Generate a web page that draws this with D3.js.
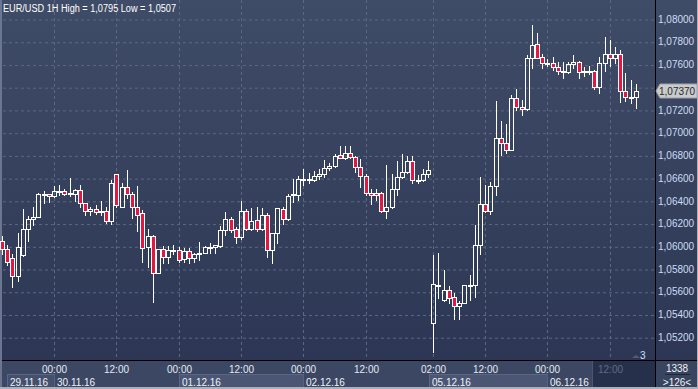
<!DOCTYPE html>
<html><head><meta charset="utf-8">
<script src="https://cdn.jsdelivr.net/npm/d3@7/dist/d3.min.js"></script>
<style>
html,body{margin:0;padding:0;background:#2e3955;}
svg{display:block;font-family:"Liberation Sans",Arial,sans-serif;}
</style></head>
<body>
<svg id="c" width="698" height="389"></svg>
<script>
// ---- data (EUR/USD 1H candles) ----
const opens = [1.06049,1.05976,1.05894,1.05742,1.05920,1.06155,1.06237,1.06261,1.06458,1.06457,
1.06440,1.06478,1.06484,1.06466,1.06463,1.06492,1.06381,1.06308,1.06325,1.06310,
1.06308,1.06225,1.06633,1.06343,1.06522,1.06457,1.06343,1.06293,1.05991,1.06091,
1.05768,1.05976,1.05903,1.05967,1.05967,1.05885,1.05956,1.05894,1.05929,1.05944,
1.05997,1.05997,1.06003,1.06143,1.06237,1.06149,1.06085,1.06313,1.06149,1.06228,
1.06149,1.06272,1.05964,1.06114,1.06328,1.06237,1.06448,1.06451,1.06592,1.06595,
1.06580,1.06618,1.06633,1.06689,1.06704,1.06800,1.06774,1.06818,1.06783,1.06695,
1.06618,1.06472,1.06469,1.06466,1.06308,1.06343,1.06501,1.06610,1.06657,1.06750,
1.06583,1.06583,1.06636,1.05328,1.05659,1.05528,1.05616,1.05557,1.05478,1.05498,
1.05659,1.05659,1.06011,1.06369,1.06314,1.06531,1.06950,1.06906,1.06847,1.07308,
1.07223,1.07205,1.07654,1.07777,1.07669,1.07616,1.07616,1.07575,1.07545,1.07537,
1.07601,1.07619,1.07543,1.07543,1.07543,1.07405,1.07610,1.07692,1.07654,1.07692,
1.07367,1.07317,1.07317];
const highs = [1.06090,1.06011,1.05932,1.06114,1.06325,1.06269,1.06343,1.06466,1.06486,1.06457,
1.06530,1.06539,1.06501,1.06601,1.06504,1.06542,1.06381,1.06349,1.06363,1.06401,
1.06343,1.06583,1.06633,1.06560,1.06671,1.06481,1.06530,1.06316,1.06152,1.06099,
1.05973,1.06000,1.06003,1.06011,1.05994,1.05982,1.05982,1.05944,1.06035,1.06003,
1.06026,1.06008,1.06179,1.06305,1.06255,1.06167,1.06399,1.06331,1.06334,1.06343,
1.06334,1.06296,1.06114,1.06334,1.06349,1.06460,1.06589,1.06618,1.06683,1.06642,
1.06665,1.06677,1.06759,1.06730,1.06812,1.06885,1.06882,1.06882,1.06797,1.06765,
1.06633,1.06501,1.06507,1.06481,1.06712,1.06633,1.06750,1.06809,1.06797,1.06794,
1.06630,1.06683,1.06753,1.05923,1.05938,1.05792,1.05651,1.05592,1.05519,1.05657,
1.05747,1.06187,1.06607,1.06539,1.06563,1.07279,1.07103,1.07073,1.07331,1.07384,
1.07287,1.07683,1.07950,1.07874,1.07689,1.07648,1.07663,1.07619,1.07619,1.07619,
1.07683,1.07633,1.07575,1.07587,1.07551,1.07663,1.07845,1.07815,1.07757,1.07727,
1.07522,1.07463,1.07428];
const lows = [1.05930,1.05835,1.05639,1.05698,1.05915,1.06049,1.06187,1.06255,1.06378,1.06393,
1.06437,1.06451,1.06454,1.06445,1.06396,1.06349,1.06272,1.06272,1.06287,1.06272,
1.06202,1.06196,1.06343,1.06343,1.06428,1.06252,1.06137,1.05865,1.05815,1.05513,
1.05768,1.05856,1.05856,1.05932,1.05865,1.05865,1.05856,1.05865,1.05879,1.05938,
1.05938,1.05938,1.05997,1.06099,1.06129,1.06026,1.06061,1.06143,1.06143,1.06135,
1.06143,1.05909,1.05850,1.06032,1.06193,1.06231,1.06393,1.06407,1.06542,1.06554,
1.06577,1.06589,1.06607,1.06671,1.06695,1.06774,1.06771,1.06774,1.06651,1.06525,
1.06451,1.06369,1.06407,1.06302,1.06252,1.06337,1.06451,1.06598,1.06648,1.06554,
1.06554,1.06577,1.06607,1.05070,1.05548,1.05519,1.05498,1.05360,1.05360,1.05498,
1.05528,1.05557,1.05929,1.06299,1.06284,1.06451,1.06803,1.06824,1.06847,1.07199,
1.07155,1.07199,1.07572,1.07654,1.07572,1.07587,1.07551,1.07516,1.07484,1.07522,
1.07572,1.07484,1.07501,1.07516,1.07384,1.07352,1.07545,1.07587,1.07610,1.07273,
1.07281,1.07258,1.07214];
const closes = [1.05973,1.05859,1.05742,1.05991,1.06149,1.06237,1.06261,1.06460,1.06463,1.06442,
1.06484,1.06489,1.06463,1.06467,1.06492,1.06378,1.06308,1.06325,1.06302,1.06311,
1.06225,1.06554,1.06360,1.06522,1.06457,1.06343,1.06278,1.05982,1.06091,1.05768,
1.05973,1.05903,1.05967,1.05956,1.05876,1.05961,1.05894,1.05929,1.05944,1.05997,
1.05998,1.06008,1.06143,1.06237,1.06143,1.06085,1.06313,1.06149,1.06220,1.06149,
1.06272,1.05964,1.06114,1.06334,1.06237,1.06443,1.06457,1.06589,1.06593,1.06580,
1.06618,1.06639,1.06689,1.06704,1.06797,1.06780,1.06818,1.06783,1.06695,1.06618,
1.06466,1.06448,1.06448,1.06308,1.06343,1.06501,1.06610,1.06657,1.06750,1.06583,
1.06584,1.06636,1.06671,1.05665,1.05660,1.05616,1.05548,1.05478,1.05498,1.05657,
1.05660,1.06008,1.06369,1.06314,1.06531,1.06950,1.06906,1.06847,1.07308,1.07223,
1.07205,1.07654,1.07771,1.07660,1.07610,1.07617,1.07575,1.07545,1.07546,1.07601,
1.07619,1.07537,1.07543,1.07543,1.07405,1.07610,1.07692,1.07654,1.07692,1.07367,
1.07317,1.07318,1.07370];

const priceTicks = [1.052,1.054,1.056,1.058,1.060,1.062,1.064,1.066,1.068,1.070,1.072,1.074,1.076,1.078,1.080];
const timeTickIdx = [10,22,34,46,58,70,83,93,105,117];
const timeTickLabels = ["00:00","12:00","00:00","12:00","00:00","12:00","02:00","12:00","00:00","12:00"];
const dateLabels = ["29.11.16","30.11.16","01.12.16","02.12.16","05.12.16","06.12.16"];
const dateStartIdx = [0.95,10,34,58,82.2,105];
const dateEndIdx = 113.6;
const titleText = "EUR/USD 1H High = 1,0795 Low = 1,0507";
const lastPriceText = "1,07370";
const barCountText = "1338";
const shiftText = ">126<";

// ---- drawing ----
const svg = d3.select("#c");
const W = 698, H = 389;
const plotL = 3, plotR = 655, plotB = 360;

const defs = svg.append("defs");
const g1 = defs.append("linearGradient").attr("id","bg").attr("x1",0).attr("y1",0).attr("x2",0).attr("y2",1);
g1.append("stop").attr("offset","0%").attr("stop-color","#3f4c67");
g1.append("stop").attr("offset","100%").attr("stop-color","#2b3553");

svg.append("rect").attr("x",0).attr("y",0).attr("width",W).attr("height",H).attr("fill","url(#bg)");
svg.append("rect").attr("x",0).attr("y",0).attr("width",2).attr("height",H).attr("fill","#6c7690");

const x = d3.scaleLinear().domain([0,122]).range([2.05,635.8]);
const y = d3.scaleLinear().domain([1.052,1.080]).range([337.2,19]);
const fmt = v => d3.format(".5f")(v).replace(".", ",");

// horizontal grid
const gridY = svg.append("g").attr("transform",`translate(${plotL},0)`)
  .call(d3.axisLeft(y).tickValues(priceTicks).tickSize(-(plotR-plotL)).tickFormat(""));
gridY.select(".domain").remove();
gridY.selectAll("line").attr("stroke","#5b6784").attr("stroke-dasharray","3,3")
  .attr("transform","translate(0,0.5)");

// vertical grid
timeTickIdx.forEach(i=>{
  const xx = Math.round(x(i)) + 0.5;
  svg.append("line").attr("x1",xx).attr("x2",xx).attr("y1",0).attr("y2",plotB)
    .attr("stroke","#5b6784").attr("stroke-dasharray","3,3");
});

// candles
const data = opens.map((o,i)=>({i,o,h:highs[i],l:lows[i],c:closes[i]}));
const cg = svg.append("g");
data.forEach(d=>{
  const cx = Math.round(x(d.i));
  const top = Math.round(y(Math.max(d.o,d.c))) + 0.5;
  let bot = Math.round(y(Math.min(d.o,d.c))) + 0.5;
  if (bot - top < 1) bot = top + 1;
  const yh = Math.round(y(d.h)), yl = Math.round(y(d.l));
  const wx = cx + 0.5;
  if (yh < top) cg.append("line").attr("x1",wx).attr("x2",wx).attr("y1",yh).attr("y2",top).attr("stroke","#fff");
  if (yl > bot) cg.append("line").attr("x1",wx).attr("x2",wx).attr("y1",bot).attr("y2",yl+1).attr("stroke","#fff");
  cg.append("rect").attr("x",cx-1.5).attr("y",top).attr("width",4).attr("height",bot-top)
    .attr("fill", d.c < d.o ? "#e5163f" : "none").attr("stroke","#fff").attr("stroke-width",1);
});

// title
svg.append("text").attr("x",3).attr("y",12).attr("fill","#ffffff").attr("font-size",10)
  .attr("textLength",173).attr("lengthAdjust","spacingAndGlyphs").text(titleText);

// frame lines
svg.append("line").attr("x1",plotR+0.5).attr("x2",plotR+0.5).attr("y1",0).attr("y2",H).attr("stroke","#000");
svg.append("line").attr("x1",2).attr("x2",W).attr("y1",plotB+0.5).attr("y2",plotB+0.5).attr("stroke","#000");

// right price axis (labels hidden behind the last-price marker are skipped)
const lp = closes[closes.length-1];
const ly = Math.round(y(lp));
const visibleTicks = priceTicks.filter(v => Math.abs(y(v) - ly) > 10);
const ya = svg.append("g").attr("transform",`translate(${plotR+1},0)`)
  .call(d3.axisRight(y).tickValues(visibleTicks).tickSize(0).tickPadding(2).tickFormat(fmt));
ya.select(".domain").remove();
ya.selectAll("text").attr("fill","#cfdcf2").attr("font-size",10).attr("font-family","Liberation Sans, Arial, sans-serif");

// last price label
svg.append("path").attr("d",`M${plotR+1},${ly} L${plotR+5},${ly-7} L${W-1},${ly-7} L${W-1},${ly+7} L${plotR+5},${ly+7} Z`)
  .attr("fill","#c9cbcc").attr("stroke","#9ea3aa");
svg.append("text").attr("x",plotR+4).attr("y",ly+3.5).attr("fill","#2a2a2a").attr("font-size",10).text(lastPriceText);

// bottom time axis panel
svg.append("rect").attr("x",2).attr("y",plotB+1).attr("width",plotR-2).attr("height",H-plotB-3).attr("fill","#3b4763");
svg.append("rect").attr("x",plotR+1).attr("y",plotB+1).attr("width",W-plotR-2).attr("height",H-plotB-3).attr("fill","#39455f");
// dark (future) region
svg.append("rect").attr("x",x(dateEndIdx)).attr("y",plotB+1).attr("width",plotR-x(dateEndIdx)).attr("height",H-plotB-3).attr("fill","#27304a");
svg.append("line").attr("x1",Math.round(x(dateEndIdx))+0.5).attr("x2",Math.round(x(dateEndIdx))+0.5)
  .attr("y1",plotB+1).attr("y2",H-2).attr("stroke","#4b5672");

// date boxes
dateLabels.forEach((t,k)=>{
  const x0 = Math.round(x(dateStartIdx[k]));
  const x1 = Math.round(k+1<dateStartIdx.length ? x(dateStartIdx[k+1]) : x(dateEndIdx));
  if (k % 2 === 0) {
    svg.append("rect").attr("x",x0+0.5).attr("y",374.5).attr("width",x1-x0).attr("height",14)
      .attr("fill", k===0 ? "#44506c" : "#4a5673").attr("stroke","#5b6782");
  } else {
    svg.append("line").attr("x1",x0+0.5).attr("x2",x0+0.5).attr("y1",374).attr("y2",388).attr("stroke","#56627d");
  }
  svg.append("text").attr("x",x0+3).attr("y",386).attr("fill","#eef2f8").attr("font-size",10).text(t);
});

// time labels
timeTickIdx.forEach((i,k)=>{
  svg.append("text").attr("x",Math.round(x(i))+0.5).attr("y",372.5).attr("text-anchor","middle")
    .attr("fill", i > dateEndIdx ? "#5e6b88" : "#e4eaf3").attr("font-size",10).text(timeTickLabels[k]);
});

// bottom right counter
svg.append("text").attr("x",677).attr("y",372).attr("text-anchor","middle").attr("fill","#eef2f8").attr("font-size",10).text(barCountText);
svg.append("line").attr("x1",665).attr("x2",690).attr("y1",374.5).attr("y2",374.5).attr("stroke","#1f2538");
svg.append("text").attr("x",677).attr("y",386).attr("text-anchor","middle").attr("fill","#eef2f8").attr("font-size",10).text(shiftText);

// small "3" marker
svg.append("path").attr("d","M632,358 L636,355 L640,358 Z").attr("fill","#555c6a");
svg.append("text").attr("x",640).attr("y",359).attr("fill","#cfe0ff").attr("font-size",10).text("3");

// outer light border bottom/right
svg.append("rect").attr("x",0).attr("y",H-2).attr("width",W).attr("height",2).attr("fill","#aab0bb");
svg.append("rect").attr("x",W-1).attr("y",0).attr("width",1).attr("height",H).attr("fill","#aab0bb");
</script>
</body></html>
